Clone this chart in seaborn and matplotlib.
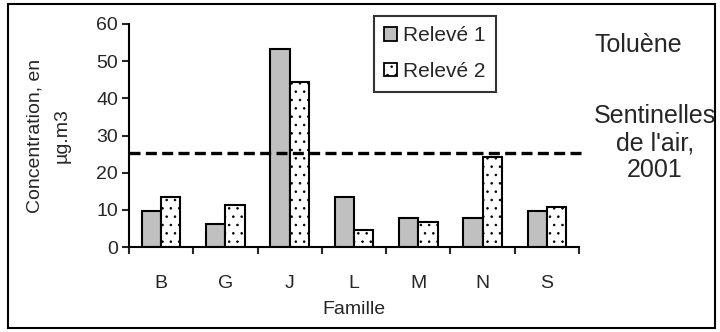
import matplotlib
matplotlib.use("Agg")
import matplotlib.pyplot as plt
import seaborn as sns
import pandas as pd
from matplotlib.patches import Rectangle

familles = ["B", "G", "J", "L", "M", "N", "S"]
releve1 = [9.7, 6.2, 53.2, 13.4, 7.8, 7.8, 9.7]
releve2 = [13.4, 11.3, 44.3, 4.6, 6.7, 24.2, 10.8]
seuil = 25.3
series = ["Relevé 1", "Relevé 2"]

df = pd.DataFrame({
    "Famille": familles * 2,
    "Concentration": releve1 + releve2,
    "Série": [series[0]] * len(familles) + [series[1]] * len(familles),
})

sns.set_style("white")
plt.rcParams["font.family"] = ["Liberation Sans", "DejaVu Sans"]
plt.rcParams["hatch.linewidth"] = 0.6

fig = plt.figure(figsize=(7.2, 3.32), dpi=100)
ax = fig.add_axes([129/720, 1-247/332, (579-129)/720, (247-24)/332])

sns.barplot(data=df, x="Famille", y="Concentration", hue="Série",
            palette=["#c0c0c0", "white"], width=0.6, ax=ax,
            edgecolor="black", linewidth=1.5, legend=False)

n = len(familles)
for i, p in enumerate(ax.patches[:2*n]):
    if i >= n:
        p.set_hatch("..")

ax.axhline(seuil, xmin=0, xmax=1.012, color="black", lw=2.4,
           linestyle=(0, (3.3, 1.6)), clip_on=False, zorder=5)

ax.set_ylim(0, 60)
ax.set_xlim(-0.5, n - 0.5)
ax.set_yticks(range(0, 61, 10))
ax.tick_params(axis="y", labelsize=14, length=5, width=1.5, direction="out", left=True, pad=3)
ax.set_xticks(range(n))
ax.set_xticklabels(familles)
ax.tick_params(axis="x", which="major", length=0, labelsize=14, pad=20)
ax.set_xticks([i - 0.5 for i in range(n + 1)], minor=True)
ax.tick_params(axis="x", which="minor", length=5, width=1.5, direction="out", bottom=True)

for s in ["top", "right"]:
    ax.spines[s].set_visible(False)
for s in ["left", "bottom"]:
    ax.spines[s].set_linewidth(1.5)
    ax.spines[s].set_color("black")

ax.set_xlabel("Famille", fontsize=14, labelpad=7)
ax.set_ylabel("Concentration, en\nµg.m3", fontsize=14, labelpad=18, linespacing=1.8)

handles = [Rectangle((0, 0), 1, 1, facecolor="#c0c0c0", edgecolor="black", lw=1.3),
           Rectangle((0, 0), 1, 1, facecolor="white", edgecolor="black", lw=1.3, hatch="..")]
leg = fig.legend(handles, series, loc="upper left", bbox_to_anchor=(374/720, 1-16/332),
                 frameon=True, fancybox=False, edgecolor="black", fontsize=15,
                 handlelength=0.6, handleheight=0.6, handletextpad=0.3,
                 borderpad=0.5, labelspacing=0.8, borderaxespad=0)
leg.get_frame().set_linewidth(1.5)

fig.text(638/720, 1-45/332, "Toluène", ha="center", va="center", fontsize=18)
fig.text(655/720, 1-143/332, "Sentinelles\nde l'air,\n2001", ha="center", va="center",
         fontsize=18, linespacing=1.15)

fig.patches.append(Rectangle((8/720, 4/332), 707/720, 324/332, transform=fig.transFigure,
                             fill=False, edgecolor="black", lw=1.5))

fig.savefig("out.png", dpi=100)
